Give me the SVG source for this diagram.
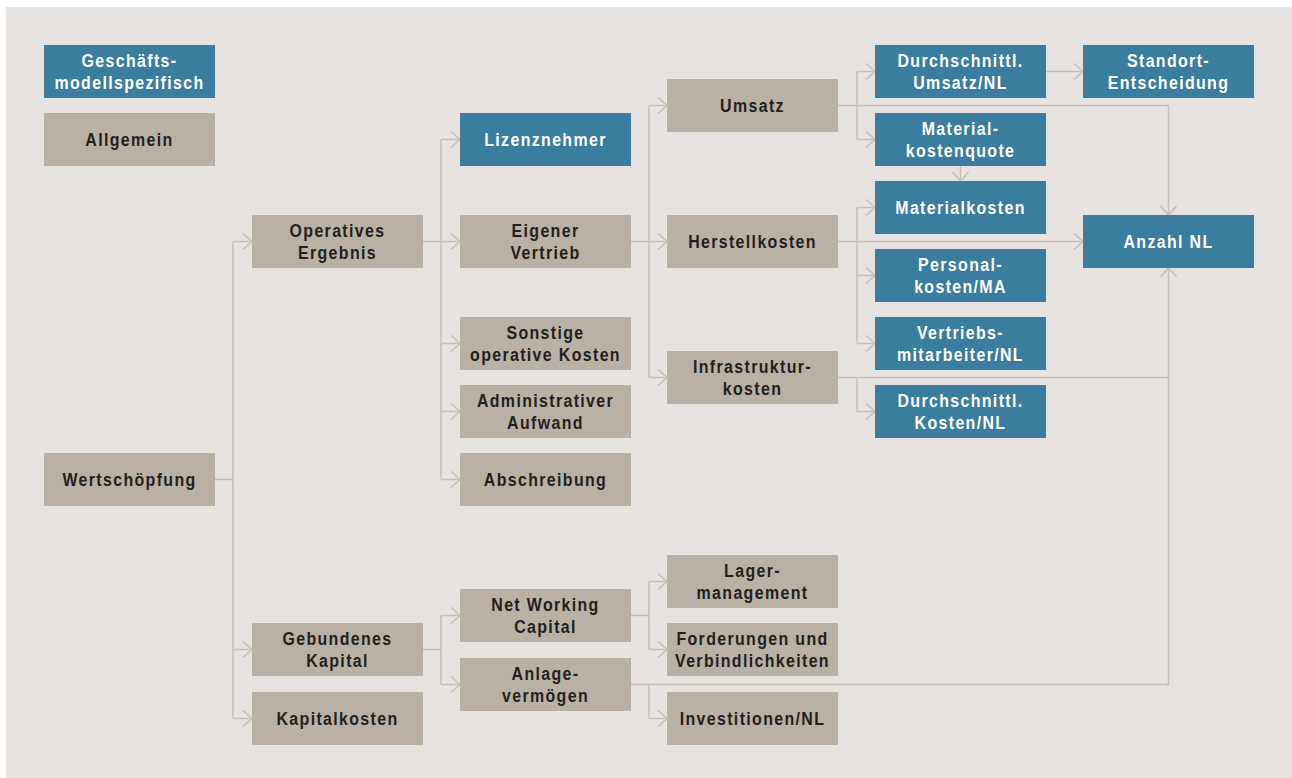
<svg xmlns="http://www.w3.org/2000/svg" width="1292" height="778" viewBox="0 0 1292 778">
<defs>
<style>
.bg{fill:#e7e3e0}
.b{fill:#3a7d9f}
.g{fill:#b9b1a6}
text{font-family:"Liberation Sans",Arial,sans-serif;font-weight:bold;font-size:19px;letter-spacing:1.6px;text-anchor:middle;transform-box:fill-box;transform-origin:center;transform:scaleX(0.84)}
.tb{fill:#ffffff}
.tg{fill:#231f20}
.c{fill:none;stroke:#c7beb4;stroke-width:1.5}
.a{fill:none;stroke:#c7beb4;stroke-width:1.5;marker-end:url(#arr)}
</style>
<marker id="arr" markerUnits="userSpaceOnUse" markerWidth="12" markerHeight="20" refX="10" refY="9" orient="auto" viewBox="0 0 12 20">
<path d="M1,1 L10,9 L1,17" fill="none" stroke="#c7beb4" stroke-width="1.5"/>
</marker>
</defs>
<rect x="0" y="0" width="1292" height="778" fill="#ffffff"/>
<rect class="bg" x="6" y="7" width="1286" height="771"/>

<g id="connectors">
<path class="c" d="M215,479.5 H233 M233,241.5 V718.5"/>
<path class="a" d="M233,241.5 H252"/>
<path class="a" d="M233,649.5 H252"/>
<path class="a" d="M233,718.5 H252"/>

<path class="c" d="M423,241.5 H441 M441,139.5 V479.5"/>
<path class="a" d="M441,139.5 H460"/>
<path class="a" d="M441,241.5 H460"/>
<path class="a" d="M441,343.5 H460"/>
<path class="a" d="M441,411.5 H460"/>
<path class="a" d="M441,479.5 H460"/>

<path class="c" d="M631,241.5 H649 M649,105.5 V377.5"/>
<path class="a" d="M649,105.5 H667"/>
<path class="a" d="M649,241.5 H667"/>
<path class="a" d="M649,377.5 H667"/>

<path class="a" d="M838,105.5 H1168.5 V215"/>
<path class="c" d="M857,71.5 V139.5"/>
<path class="a" d="M857,71.5 H875"/>
<path class="a" d="M857,139.5 H875"/>

<path class="a" d="M1046,71.5 H1083"/>
<path class="a" d="M960.5,166 V181"/>

<path class="a" d="M838,241.5 H1083"/>
<path class="c" d="M857,207.5 V343.5"/>
<path class="a" d="M857,207.5 H875"/>
<path class="a" d="M857,275.5 H875"/>
<path class="a" d="M857,343.5 H875"/>

<path class="a" d="M838,377.5 H1168.5 V268"/>
<path class="a" d="M857,377.5 V411.5 H875"/>

<path class="c" d="M423,649.5 H441 M441,615.5 V684.5"/>
<path class="a" d="M441,615.5 H460"/>
<path class="a" d="M441,684.5 H460"/>

<path class="c" d="M631,615.5 H649 M649,581.5 V649.5"/>
<path class="a" d="M649,581.5 H667"/>
<path class="a" d="M649,649.5 H667"/>

<path class="c" d="M631,684.5 H1168.5 V377.5"/>
<path class="a" d="M649,684.5 V718.5 H667"/>
</g>

<g id="legend-spezifisch"><rect class="b" x="44" y="45" width="171" height="53"/><text class="tb" x="129.5" y="67">Geschäfts-</text><text class="tb" x="129.5" y="89">modellspezifisch</text></g>
<g id="legend-allgemein"><rect class="g" x="44" y="113" width="171" height="53"/><text class="tg" x="129.5" y="146.5">Allgemein</text></g>
<g id="wertschoepfung"><rect class="g" x="44" y="453" width="171" height="53"/><text class="tg" x="129.5" y="486.5">Wertschöpfung</text></g>

<g id="operatives-ergebnis"><rect class="g" x="252" y="215" width="171" height="53"/><text class="tg" x="337.5" y="237">Operatives</text><text class="tg" x="337.5" y="259">Ergebnis</text></g>
<g id="gebundenes-kapital"><rect class="g" x="252" y="623" width="171" height="53"/><text class="tg" x="337.5" y="645">Gebundenes</text><text class="tg" x="337.5" y="667">Kapital</text></g>
<g id="kapitalkosten"><rect class="g" x="252" y="692" width="171" height="53"/><text class="tg" x="337.5" y="725.5">Kapitalkosten</text></g>

<g id="lizenznehmer"><rect class="b" x="460" y="113" width="171" height="53"/><text class="tb" x="545.5" y="146.5">Lizenznehmer</text></g>
<g id="eigener-vertrieb"><rect class="g" x="460" y="215" width="171" height="53"/><text class="tg" x="545.5" y="237">Eigener</text><text class="tg" x="545.5" y="259">Vertrieb</text></g>
<g id="sonstige"><rect class="g" x="460" y="317" width="171" height="53"/><text class="tg" x="545.5" y="339">Sonstige</text><text class="tg" x="545.5" y="361">operative Kosten</text></g>
<g id="administrativer"><rect class="g" x="460" y="385" width="171" height="53"/><text class="tg" x="545.5" y="407">Administrativer</text><text class="tg" x="545.5" y="429">Aufwand</text></g>
<g id="abschreibung"><rect class="g" x="460" y="453" width="171" height="53"/><text class="tg" x="545.5" y="486.5">Abschreibung</text></g>
<g id="net-working-capital"><rect class="g" x="460" y="589" width="171" height="53"/><text class="tg" x="545.5" y="611">Net Working</text><text class="tg" x="545.5" y="633">Capital</text></g>
<g id="anlagevermoegen"><rect class="g" x="460" y="658" width="171" height="53"/><text class="tg" x="545.5" y="680">Anlage-</text><text class="tg" x="545.5" y="702">vermögen</text></g>

<g id="umsatz"><rect class="g" x="667" y="79" width="171" height="53"/><text class="tg" x="752.5" y="112.5">Umsatz</text></g>
<g id="herstellkosten"><rect class="g" x="667" y="215" width="171" height="53"/><text class="tg" x="752.5" y="248.5">Herstellkosten</text></g>
<g id="infrastrukturkosten"><rect class="g" x="667" y="351" width="171" height="53"/><text class="tg" x="752.5" y="373">Infrastruktur-</text><text class="tg" x="752.5" y="395">kosten</text></g>
<g id="lagermanagement"><rect class="g" x="667" y="555" width="171" height="53"/><text class="tg" x="752.5" y="577">Lager-</text><text class="tg" x="752.5" y="599">management</text></g>
<g id="forderungen"><rect class="g" x="667" y="623" width="171" height="53"/><text class="tg" x="752.5" y="645">Forderungen und</text><text class="tg" x="752.5" y="667">Verbindlichkeiten</text></g>
<g id="investitionen"><rect class="g" x="667" y="692" width="171" height="53"/><text class="tg" x="752.5" y="725.5">Investitionen/NL</text></g>

<g id="umsatz-nl"><rect class="b" x="875" y="45" width="171" height="53"/><text class="tb" x="960.5" y="67">Durchschnittl.</text><text class="tb" x="960.5" y="89">Umsatz/NL</text></g>
<g id="materialkostenquote"><rect class="b" x="875" y="113" width="171" height="53"/><text class="tb" x="960.5" y="135">Material-</text><text class="tb" x="960.5" y="157">kostenquote</text></g>
<g id="materialkosten"><rect class="b" x="875" y="181" width="171" height="53"/><text class="tb" x="960.5" y="214.5">Materialkosten</text></g>
<g id="personalkosten"><rect class="b" x="875" y="249" width="171" height="53"/><text class="tb" x="960.5" y="271">Personal-</text><text class="tb" x="960.5" y="293">kosten/MA</text></g>
<g id="vertriebsmitarbeiter"><rect class="b" x="875" y="317" width="171" height="53"/><text class="tb" x="960.5" y="339">Vertriebs-</text><text class="tb" x="960.5" y="361">mitarbeiter/NL</text></g>
<g id="kosten-nl"><rect class="b" x="875" y="385" width="171" height="53"/><text class="tb" x="960.5" y="407">Durchschnittl.</text><text class="tb" x="960.5" y="429">Kosten/NL</text></g>

<g id="standort"><rect class="b" x="1083" y="45" width="171" height="53"/><text class="tb" x="1168.5" y="67">Standort-</text><text class="tb" x="1168.5" y="89">Entscheidung</text></g>
<g id="anzahl-nl"><rect class="b" x="1083" y="215" width="171" height="53"/><text class="tb" x="1168.5" y="248.5">Anzahl NL</text></g>
</svg>
